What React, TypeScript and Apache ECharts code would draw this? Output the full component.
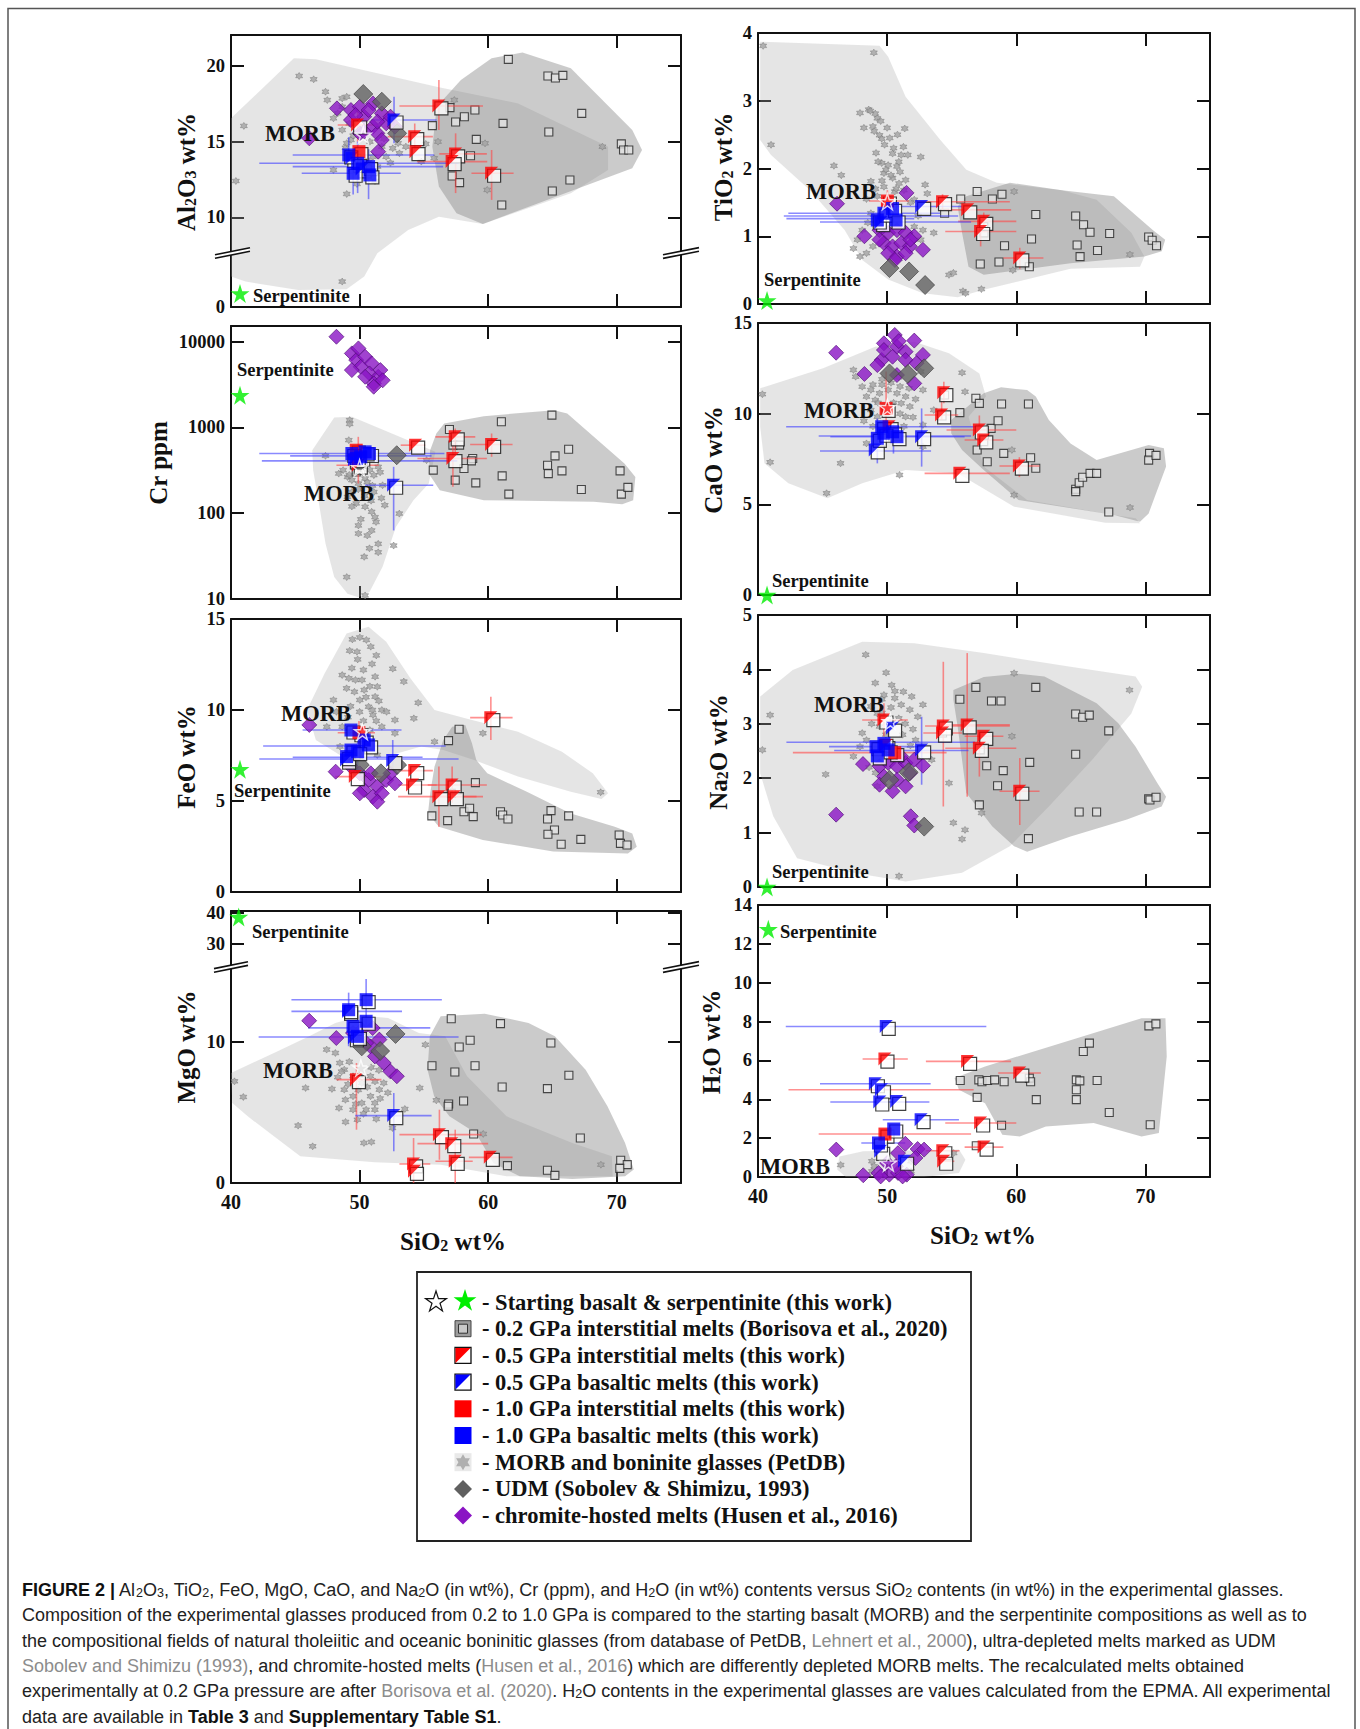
import React, { useEffect, useRef } from "react";
import * as echarts from "echarts";

// ---------------- DATA (x = SiO2 wt%) ----------------
// Al2O3 panel
const AL_FIELD_MORB = [[40,16.54],[44.89,20.51],[46.6,20.44],[56.17,18.59],[62.33,17.53],[69.33,14.67],[69.33,13.13],[66.43,11.59],[59.59,9.56],[56.17,10.04],[53.78,9.16],[51.38,7.62],[50.36,6.08],[48.99,5.24],[45.23,5.2],[41.13,5.75],[40,6.08]];
const AL_FIELD_BOR = [[62.67,20.9],[66.43,19.85],[71.21,15.77],[71.97,14.45],[71.21,13.24],[59.59,9.56],[57.54,10.26],[56.17,12.03],[55.66,14.67],[56.0,17.31],[57.88,19.07],[60.27,20.51]];
const AL_PETDB = [[45.3,19.34],[46.43,19.12],[47.35,18.3],[47.49,17.75],[48.65,17.86],[49.0,17.97],[41.0,16.04],[40.38,12.4],[49.0,11.54],[48.65,5.75],[47.97,13.13],[48.65,15.77],[47.97,16.54],[49.33,15.11],[52.07,14.0],[52.58,14.56],[53.1,14.23],[53.6,14.67],[54.8,13.68],[55.15,14.85],[56.1,15.0],[57.37,17.75],[59.76,14.89],[59.93,11.81],[68.89,14.67],[55.8,13.9],[51.4,13.35],[51.73,14.67],[51.04,14.0],[48.65,17.31],[48.3,16.87],[50.7,13.68],[49.2,16.2],[48.9,14.6],[49.5,15.4],[50.8,15.0],[51.9,15.2],[53.0,14.9],[49.0,14.9],[52.4,13.6],[51.2,12.4],[49.8,12.2]];
const AL_BOR = [[61.57,20.44],[64.65,19.34],[65.23,19.21],[65.81,19.38],[67.28,16.87],[64.72,15.64],[61.16,16.21],[58.97,17.09],[58.15,16.65],[57.47,16.3],[57.03,17.25],[55.66,16.06],[59.08,15.15],[58.63,14.07],[57.2,12.73],[57.78,12.29],[61.06,10.81],[64.99,11.74],[66.36,12.47],[70.36,14.85],[70.53,14.45],[70.94,14.45]];
const AL_RED05 = [[56.17,17.36],[54.29,15.33],[54.39,14.34],[57.47,14.19],[57.2,13.68],[60.27,12.91],[49.85,16.1]];
const AL_RED10 = [[49.95,14.34]];
const AL_BLUE05 = [[52.68,16.43],[49.4,13.9],[50.2,13.2]];
const AL_BLUE10 = [[49.16,14.12],[49.85,13.57],[50.7,13.35],[49.5,12.91],[50.8,12.8]];
const AL_ERR_RED = [[56.17,17.36,53.1,59.6,15.77,19.07],[54.29,15.33,52.2,55.7,14.45,16.2],[57.47,14.19,56.2,59.9,11.6,15.55],[57.2,13.68,54.46,59.93,null,null],[60.27,12.91,58.7,61.98,11.15,14.45],[49.85,16.1,48.3,51.4,15.0,17.0]];
const AL_ERR_BLUE = [[52.68,16.43,50.9,56.0,14.89,17.97],[49.16,14.12,44.8,55.8,13.0,15.3],[49.85,13.57,42.2,57.7,11.6,15.0],[50.7,13.35,44.8,56.5,11.2,14.5],[49.5,12.91,45.5,53.2,11.5,14.0]];
const AL_CHR = [[48.24,17.2],[46.09,15.22],[49.33,17.09],[50.02,17.31],[51.04,17.53],[51.73,16.87],[50.36,16.65],[49.33,16.43],[51.04,15.99],[52.07,16.21],[52.75,15.99],[51.38,15.55],[50.02,15.55],[50.7,17.09],[49.68,16.76],[51.45,14.34],[51.73,15.11],[50.36,15.66],[52.41,16.65],[51.38,16.32]];
const AL_UDM = [[50.29,18.15],[51.73,17.64],[52.92,15.55]];
const AL_MORB = [[50.29,15.44]];
const AL_SERP = [[40.7,0.9]];

// TiO2 panel
const TI_FIELD_MORB = [[40.17,3.87],[49.41,3.81],[50.08,3.65],[51.43,3.06],[54.12,2.42],[56.13,1.98],[58.49,1.79],[63.53,1.68],[66.22,1.54],[68.91,1.05],[69.92,0.7],[69.58,0.55],[64.2,0.52],[57.48,0.21],[55.46,0.1],[52.77,0.16],[50.08,0.36],[48.07,0.65],[46.72,1.09],[44.03,1.68],[41.01,2.2],[40.17,2.42]];
const TI_FIELD_BOR = [[56.13,1.59],[59.5,1.79],[63.53,1.68],[67.56,1.59],[70.59,1.09],[71.53,0.95],[71.26,0.78],[69.92,0.7],[64.2,0.6],[57.48,0.43],[56.3,0.55],[55.8,1.05],[55.46,1.44]];
const TI_PETDB = [[40.4,3.81],[48.97,3.71],[41.01,2.35],[47.9,2.82],[48.57,2.87],[49.08,2.81],[49.24,2.74],[48.9,2.62],[49.41,2.49],[49.58,2.44],[51.36,2.59],[51.26,2.32],[50.42,2.22],[51.09,2.2],[51.6,2.2],[52.6,2.17],[49.14,2.23],[45.88,2.04],[46.45,1.9],[49.58,2.08],[50.08,2.05],[50.76,2.03],[49.75,1.93],[50.42,1.86],[50.92,1.78],[48.74,1.81],[51.43,1.83],[49.75,1.73],[52.94,1.76],[53.11,1.63],[52.1,1.54],[52.77,1.09],[53.61,1.05],[47.39,0.82],[47.9,0.7],[48.4,0.75],[54.79,0.43],[55.13,0.46],[55.87,0.19],[56.07,0.16],[57.3,0.22],[59.83,1.66],[59.73,0.5],[68.8,0.73],[50.25,1.54],[49.24,1.59],[50.59,1.66],[48.74,1.34],[48.07,1.09],[52.1,1.14],[48.7,2.85],[49.5,2.7],[49.0,2.55],[49.8,2.35],[50.2,2.45],[50.5,2.3],[49.3,2.1],[50.9,2.1],[49.9,1.98],[50.3,1.9],[51.0,1.95],[49.6,1.82],[50.7,1.7],[51.3,1.68],[49.1,1.7],[48.4,1.55],[51.8,1.5],[52.4,1.3],[48.5,1.2],[47.7,0.95],[48.9,0.85],[52.6,0.95],[48.2,2.6],[50.0,2.6],[50.8,2.5]];
const TI_BOR = [[56.97,1.66],[58.15,1.55],[58.89,1.62],[55.7,1.55],[61.51,1.32],[64.6,1.3],[65.21,1.17],[65.71,1.06],[67.23,1.04],[61.18,0.96],[59.09,0.86],[64.71,0.87],[64.94,0.7],[66.29,0.79],[58.66,0.62],[57.21,0.59],[61.01,0.55],[70.25,0.99],[70.52,0.94],[70.86,0.86],[54.45,1.34],[57.48,1.14],[57.5,1.05]];
const TI_RED05 = [[54.29,1.51],[56.24,1.39],[57.48,1.22],[57.24,1.07],[60.27,0.68]];
const TI_RED10 = [[50.02,1.52]];
const TI_BLUE05 = [[52.67,1.44],[49.5,1.2]];
const TI_BLUE10 = [[49.24,1.24],[49.75,1.34],[50.42,1.41],[50.69,1.24]];
const TI_ERR_RED = [[54.29,1.51,52.3,59.5,1.38,1.62],[56.24,1.39,54.5,59.6,null,null],[57.48,1.22,55.5,60.0,1.08,1.35],[57.24,1.07,54.5,60.0,0.85,1.25],[60.27,0.68,59.0,62.1,0.52,0.83],[50.02,1.52,48.6,51.7,1.35,1.68]];
const TI_ERR_BLUE = [[49.75,1.34,42.35,54.1,null,null],[49.5,1.3,42.0,55.5,null,null],[49.3,1.26,42.2,52.1,null,null],[50.2,1.21,44.8,56.5,null,null],[52.67,1.44,50.7,55.8,null,null]];
const TI_CHR = [[46.12,1.48],[48.24,1.0],[51.5,1.64],[49.41,1.09],[50.08,1.05],[50.76,1.09],[51.43,1.05],[52.1,1.0],[52.77,0.8],[49.75,0.9],[50.42,0.85],[51.09,0.9],[51.76,0.85],[50.76,0.7],[50.08,0.75],[51.43,0.75],[51.8,0.95],[49.4,0.95],[50.6,0.65]];
const TI_UDM = [[50.18,0.53],[51.7,0.48],[52.94,0.28]];
const TI_MORB = [[50.02,1.51]];
const TI_SERP = [[40.7,0.05]];

// Cr panel (ppm, log)
const CR_FIELD_MORB = [[46.32,543],[48.03,1309],[49.4,1334],[55.9,520],[55.38,222],[54.19,142],[52.82,69],[51.79,23.7],[50.77,12.1],[49.91,10.5],[49.06,11.5],[48.03,18.1],[47.35,44.3],[46.84,130],[46.39,318]];
const CR_FIELD_BOR = [[56.58,1114],[59.66,1355],[65.13,1592],[66.15,1455],[70.6,380],[71.45,265],[71.28,142],[70.43,127],[68.21,136],[59.66,142],[56.24,185],[55.38,290],[55.49,543],[55.97,851]];
const CR_PETDB = [[49.23,1219],[49.23,1100],[49.16,711],[47.35,467],[48.72,318],[49.06,265],[49.4,243],[49.91,222],[50.43,254],[51.11,278],[51.45,348],[51.79,212],[49.06,155],[49.74,130],[50.43,119],[50.94,104],[51.96,124],[53.09,99],[49.91,72],[51.28,79],[49.91,58],[50.94,63],[51.45,44],[50.77,39],[51.45,35],[52.65,42],[50.36,31],[49.0,18],[50.43,11],[55.21,416],[48.38,290],[49.4,177],[51.11,177],[49.6,340],[50.2,300],[50.8,320],[49.2,280],[51.6,300],[50.6,230],[49.9,190],[51.0,210],[50.4,160],[51.7,150],[49.4,120],[50.9,140],[51.2,90],[50.1,85],[50.6,55]];
const CR_BOR = [[56.99,948],[61.03,1164],[64.96,1393],[57.26,622],[57.78,622],[58.8,434],[58.7,408],[58.12,332],[55.73,318],[57.44,243],[59.04,226],[61.09,273],[61.61,167],[65.2,467],[66.26,558],[64.62,363],[64.68,290],[65.74,312],[67.25,189],[70.26,312],[70.36,167],[70.87,200],[49.74,303]];
const CR_RED05 = [[54.36,622],[57.44,778],[57.26,434],[60.27,634],[49.9,363]];
const CR_RED10 = [[49.74,543]];
const CR_BLUE05 = [[52.65,212],[49.6,420]];
const CR_BLUE10 = [[49.4,497],[50.09,455],[50.77,497],[49.74,434],[50.43,520]];
const CR_ERR_RED = [[54.36,622,53.2,55.1,null,null],[57.44,778,55.9,59.0,497,973],[57.26,434,54.5,59.9,203,650],[60.27,634,58.6,61.9,455,851],[49.9,363,48.2,51.5,222,778]];
const CR_ERR_BLUE = [[52.65,212,50.43,55.73,63,348],[50.0,497,42.2,56.6,null,null],[50.0,467,44.6,55.6,null,null],[49.7,408,42.4,57.6,null,null]];
const CR_CHR = [[48.2,11430],[49.4,7311],[49.74,6105],[50.43,6683],[50.94,5580],[50.09,5105],[49.4,4668],[50.77,4266],[51.45,3900],[51.11,3264],[50.43,3900],[51.62,4668],[49.91,8360],[51.1,2985],[51.8,3550]];
const CR_UDM = [[52.89,475]];
const CR_MORB = [[50.0,340]];
const CR_SERP = [[40.7,2380]];

// CaO panel
const CA_FIELD_MORB = [[40.17,11.4],[45.04,12.5],[49.08,13.69],[52.1,13.97],[54.79,13.33],[57.14,12.22],[57.65,10.94],[56.3,9.83],[57.48,7.08],[60.84,5.24],[67.56,4.41],[69.24,4.23],[69.58,3.95],[66.89,3.99],[59.83,4.87],[55.46,6.71],[51.43,6.89],[48.07,6.16],[45.38,5.33],[42.35,6.16],[40.5,7.26],[40.17,9.28]];
const CA_FIELD_BOR = [[54.96,9.65],[57.48,11.12],[58.82,11.45],[60.84,11.3],[61.51,10.94],[62.52,9.65],[64.2,8.36],[66.22,7.44],[68.91,8.0],[70.25,8.27],[71.43,8.09],[71.6,7.08],[70.92,5.79],[70.25,4.5],[69.58,4.04],[67.56,4.41],[63.53,4.87],[60.17,5.24],[57.48,6.89],[55.8,8.0],[54.96,8.92]];
const CA_PETDB = [[40.34,11.07],[40.94,7.32],[45.31,5.61],[46.39,7.26],[50.96,6.62],[55.8,12.26],[56.03,11.21],[59.83,5.51],[68.81,4.82],[59.66,8.0],[47.39,12.41],[48.07,11.49],[48.74,11.31],[49.41,11.12],[50.08,11.31],[50.76,11.12],[51.43,10.94],[48.4,10.94],[49.08,10.75],[51.09,10.57],[51.76,10.39],[52.77,11.31],[53.61,10.2],[52.77,9.38],[49.24,9.83],[51.43,9.83],[48.74,10.2],[48.4,8.36],[52.77,8.18],[52.6,12.32],[47.56,12.04],[48.9,11.6],[49.6,11.6],[50.3,11.7],[51.0,11.5],[51.7,11.4],[49.3,10.6],[50.5,10.6],[52.2,10.8],[49.9,10.0],[51.0,10.0],[52.0,9.8],[48.2,9.6],[48.9,9.3],[51.3,9.3],[49.6,11.9],[50.9,12.0]];
const CA_BOR = [[56.87,10.85],[57.14,10.57],[58.86,10.53],[60.94,10.53],[55.63,10.06],[58.05,9.19],[58.59,9.61],[56.97,8.0],[59.03,7.81],[57.75,7.35],[61.11,7.57],[61.51,6.99],[64.6,5.83],[64.6,5.7],[64.87,6.19],[65.14,6.49],[65.71,6.71],[66.22,6.71],[67.16,4.58],[70.32,7.81],[70.25,7.44],[70.82,7.7],[54.45,11.03],[54.25,9.87],[57.48,8.46]];
const CA_RED05 = [[54.39,11.16],[54.22,9.93],[57.14,9.1],[57.48,8.55],[55.63,6.71],[60.24,7.11],[50.15,9.28]];
const CA_RED10 = [[49.92,10.29]];
const CA_BLUE05 = [[52.67,8.73],[49.08,8.0]];
const CA_BLUE10 = [[49.58,9.28],[50.42,9.0],[50.76,8.73],[49.24,8.64],[49.75,8.92]];
const CA_ERR_RED = [[54.39,11.16,null,null,10.57,11.76],[54.22,9.93,52.9,55.5,9.65,10.75],[57.14,9.1,54.6,60.0,8.2,9.9],[57.48,8.55,56.0,59.0,null,null],[55.63,6.71,52.9,59.5,null,null],[60.24,7.11,58.7,61.8,6.5,7.6],[49.92,10.29,null,null,9.47,12.32]];
const CA_ERR_BLUE = [[49.58,9.28,42.18,57.48,null,null],[50.42,8.77,44.7,56.5,null,null],[50.76,8.73,45.6,56.0,null,null],[49.24,7.94,44.8,53.4,null,null],[49.24,8.64,null,null,7.26,9.74],[50.49,9.0,null,null,7.8,9.6],[52.67,8.73,null,null,7.08,10.29]];
const CA_CHR = [[46.05,13.36],[50.59,14.34],[52.1,14.03],[49.75,13.88],[50.76,13.69],[51.43,13.42],[49.58,12.96],[50.42,13.14],[51.43,12.96],[52.77,13.24],[49.24,12.68],[48.24,12.19],[52.1,11.67],[50.76,12.13],[49.75,13.51],[50.9,14.0],[52.27,12.78]];
const CA_UDM = [[50.18,12.22],[51.6,12.19],[52.87,12.5]];
const CA_MORB = [[50.02,10.35]];
const CA_SERP = [[40.7,0.0]];

// FeO panel
const FE_FIELD_MORB = [[45.91,10.0],[47.28,12.01],[48.99,14.21],[50.7,14.58],[52.07,13.75],[53.95,11.74],[55.83,10.0],[58.22,9.54],[62.32,8.81],[65.74,7.71],[68.14,6.52],[69.33,5.42],[68.82,5.11],[66.43,5.51],[62.32,6.34],[58.91,7.25],[56.51,7.8],[54.8,7.99],[52.07,7.44],[48.65,7.44],[46.6,8.35]];
const FE_FIELD_BOR = [[57.2,9.08],[58.22,9.18],[58.74,8.17],[59.08,7.25],[59.93,6.52],[63.01,5.51],[66.43,4.32],[69.85,3.59],[71.21,3.22],[71.56,2.49],[70.87,2.12],[65.06,2.22],[59.59,2.86],[56.17,3.59],[55.32,4.32],[55.49,5.42],[55.83,6.89],[56.51,8.35]];
const FE_PETDB = [[49.44,13.88],[50.02,13.99],[50.53,13.85],[50.87,13.48],[49.23,13.26],[49.85,12.78],[50.97,12.53],[52.58,12.27],[53.44,11.56],[48.65,11.92],[49.16,11.74],[49.68,11.65],[48.99,11.19],[50.19,11.65],[50.36,11.1],[51.21,11.83],[51.38,11.28],[51.21,10.73],[50.02,10.55],[50.7,10.18],[51.73,10.0],[47.97,10.55],[47.45,9.08],[48.65,9.08],[51.73,9.08],[52.75,9.45],[52.75,8.72],[54.22,9.54],[54.56,10.4],[55.83,8.26],[59.59,8.72],[68.75,5.48],[51.38,7.53],[48.48,7.99],[51.04,9.73],[49.4,12.3],[50.3,12.2],[50.8,11.3],[49.6,11.0],[50.5,10.7],[51.5,10.5],[49.3,10.2],[50.0,9.9],[51.0,10.0],[49.1,9.6],[50.3,9.4],[51.3,9.4],[48.2,9.9],[50.8,8.9],[52.1,9.9],[49.8,13.2],[51.3,13.0]];
const FE_BOR = [[57.74,8.94],[56.92,8.32],[59.01,6.01],[55.62,4.18],[56.85,3.92],[58.12,4.41],[58.56,4.6],[58.84,4.14],[60.96,4.41],[61.13,4.23],[61.54,4.01],[64.62,4.01],[64.89,4.47],[65.16,3.41],[64.65,3.17],[65.68,2.62],[66.26,4.18],[67.21,2.89],[70.19,3.13],[70.29,2.67],[70.8,2.58],[57.13,5.42]];
const FE_RED05 = [[60.21,9.58],[54.29,6.67],[54.12,5.88],[57.2,5.88],[56.17,5.24],[57.37,5.24],[49.67,6.34]];
const FE_RED10 = [[49.95,8.75]];
const FE_BLUE05 = [[52.58,7.22],[48.99,7.25]];
const FE_BLUE10 = [[49.33,8.9],[50.36,8.35],[50.7,8.08],[49.33,7.8],[48.99,7.44],[49.85,7.71]];
const FE_ERR_RED = [[60.21,9.58,58.6,61.9,8.35,10.73],[54.29,6.67,53.0,55.7,null,null],[54.12,5.88,53.0,56.0,null,null],[57.2,5.88,55.3,59.9,4.9,6.9],[56.17,5.24,53.0,59.1,3.59,6.89],[57.37,5.24,55.8,59.6,null,null],[49.67,6.34,48.1,51.7,null,null],[49.95,8.75,48.3,51.2,8.1,9.4]];
const FE_ERR_BLUE = [[49.4,8.9,45.57,53.26,null,null],[49.9,8.02,42.5,56.7,null,null],[49.6,7.31,42.2,57.7,null,null],[49.5,7.4,44.8,54.9,null,null],[52.58,7.22,null,null,6.7,8.35],[49.85,7.8,null,null,6.5,8.7]];
const FE_CHR = [[46.09,9.18],[48.14,6.61],[49.33,6.89],[50.02,6.52],[50.7,6.15],[51.38,5.79],[52.07,6.15],[52.75,5.97],[50.36,5.6],[51.04,5.24],[51.73,5.42],[51.38,4.96],[50.02,5.42],[52.41,6.52],[50.87,6.52]];
const FE_UDM = [[50.02,6.98],[51.66,6.52],[52.92,6.98]];
const FE_MORB = [[50.22,8.81]];
const FE_SERP = [[40.7,6.74]];

// Na2O panel
const NA_FIELD_MORB = [[40.17,3.5],[42.69,3.99],[48.07,4.51],[52.1,4.48],[57.48,4.3],[64.2,4.05],[69.24,3.87],[69.75,3.68],[68.91,3.19],[65.88,2.34],[62.52,1.48],[59.5,0.75],[55.8,0.26],[51.43,0.1],[47.39,0.26],[43.03,0.53],[41.18,1.3],[40.17,2.09]];
const NA_FIELD_BOR = [[55.13,3.62],[57.48,3.86],[60.17,3.92],[62.18,3.87],[66.22,3.38],[67.9,3.01],[69.24,2.58],[70.92,1.91],[71.6,1.66],[71.26,1.48],[68.57,1.24],[64.2,0.93],[60.84,0.65],[59.83,0.75],[58.15,1.11],[56.13,1.73],[55.8,2.34],[55.46,2.95],[55.13,3.44]];
const NA_PETDB = [[40.34,2.52],[40.94,3.16],[45.24,2.07],[48.34,4.27],[49.92,3.94],[49.08,3.75],[50.35,3.71],[49.75,3.53],[51.26,3.59],[50.59,3.47],[51.09,3.35],[51.76,3.26],[52.77,3.35],[52.37,3.13],[48.74,3.32],[49.24,3.19],[48.07,2.83],[47.39,2.4],[47.9,2.58],[53.45,2.34],[54.79,1.91],[55.13,1.18],[56.03,1.05],[55.8,0.88],[57.31,1.36],[50.92,0.2],[59.83,3.93],[59.66,2.77],[68.77,3.62],[49.24,1.85],[49.41,2.95],[48.8,3.0],[49.6,3.2],[50.3,3.3],[50.9,3.1],[51.4,3.0],[52.0,2.9],[48.4,2.7],[49.9,2.8],[51.2,2.8],[51.8,2.6],[48.6,2.2],[49.1,2.1],[52.2,2.7],[50.6,3.6],[51.9,3.5],[49.6,3.45]];
const NA_BOR = [[55.63,3.45],[56.87,3.67],[58.08,3.42],[58.82,3.42],[61.51,3.67],[64.6,3.18],[65.14,3.12],[65.65,3.16],[67.16,2.87],[64.6,2.44],[57.71,2.23],[58.99,2.14],[58.55,1.86],[61.04,2.29],[57.14,1.51],[64.87,1.38],[66.22,1.38],[60.94,0.89],[70.25,1.62],[70.35,1.6],[70.82,1.65],[54.29,2.83],[57.21,2.52],[50.76,2.4]];
const NA_RED05 = [[49.75,3.07],[54.35,2.96],[54.29,2.83],[56.2,2.98],[57.48,2.77],[57.14,2.55],[60.27,1.76],[49.9,2.6]];
const NA_RED10 = [[50.59,2.47]];
const NA_BLUE05 = [[52.67,2.52],[50.42,2.92]];
const NA_BLUE10 = [[49.14,2.58],[49.75,2.64],[49.24,2.41],[50.08,2.52]];
const NA_ERR_RED = [[49.75,3.07,48.07,51.6,2.77,3.38],[54.35,2.96,52.94,59.5,1.48,4.14],[54.29,2.83,52.8,55.8,null,null],[56.2,2.98,54.5,59.5,1.66,4.3],[57.48,2.77,56.0,59.0,null,null],[57.14,2.55,54.5,60.0,2.03,2.83],[60.27,1.76,58.7,61.8,1.14,2.37],[50.59,2.47,42.7,54.6,null,null]];
const NA_ERR_BLUE = [[49.8,2.66,42.2,56.8,null,null],[49.5,2.58,45.5,52.8,null,null],[50.1,2.51,45.9,56.3,null,null],[52.67,2.52,null,null,1.88,3.13]];
const NA_CHR = [[48.13,2.26],[46.05,1.33],[51.83,1.3],[52.1,1.13],[52.77,2.23],[49.41,2.22],[50.08,2.28],[50.76,2.22],[51.43,2.28],[52.1,2.34],[49.75,2.03],[50.76,1.97],[51.43,1.85],[50.42,1.76],[49.41,1.88],[51.09,2.4],[51.76,2.09]];
const NA_UDM = [[50.18,1.97],[51.66,2.11],[52.87,1.11]];
const NA_MORB = [[50.25,3.04]];
const NA_SERP = [[40.7,0.0]];

// MgO panel
const MG_FIELD_MORB = [[40.0,7.8],[43.34,9.22],[46.08,10.4],[48.12,11.35],[50.17,11.87],[52.22,11.7],[54.61,10.64],[56.66,10.4],[58.36,7.57],[61.43,4.73],[66.55,2.84],[69.62,1.89],[69.69,0.47],[61.43,0.47],[56.31,1.3],[51.19,1.47],[45.39,1.89],[43.34,3.31],[41.3,4.73],[40.1,5.67]];
const MG_FIELD_BOR = [[56.31,11.82],[59.73,12.01],[63.14,11.35],[65.19,10.4],[67.58,8.04],[69.28,5.44],[70.65,2.84],[71.33,0.95],[70.65,0.47],[66.55,0.28],[62.46,0.47],[60.41,1.42],[59.04,3.55],[56.99,4.73],[55.8,6.15],[55.29,8.04],[55.46,10.4]];
const MG_PETDB = [[40.27,7.21],[40.96,6.1],[45.22,4.07],[46.35,2.6],[45.8,6.74],[47.85,6.67],[48.4,5.32],[48.91,4.33],[50.34,2.84],[50.92,2.91],[51.3,4.54],[52.56,3.9],[53.52,5.25],[54.68,6.74],[55.12,9.81],[55.97,5.86],[59.62,3.48],[68.77,1.3],[48.12,9.22],[47.44,9.46],[48.81,8.04],[49.49,7.57],[50.17,7.09],[50.85,7.57],[48.81,6.62],[49.49,6.15],[50.17,5.67],[50.85,6.15],[51.54,6.62],[51.19,5.67],[49.49,5.2],[50.51,5.2],[51.88,7.09],[48.46,8.51],[51.19,5.2],[49.83,4.49],[48.3,7.5],[49.1,7.0],[49.9,6.6],[50.6,6.8],[51.2,7.2],[48.9,5.9],[49.7,5.6],[51.6,6.0],[50.3,4.9],[48.6,7.9],[50.9,8.2],[49.2,8.6],[51.5,8.0],[50.0,7.6],[52.2,6.4]];
const MG_BOR = [[57.13,11.65],[60.96,11.3],[58.6,10.12],[57.75,9.65],[64.88,9.93],[55.63,8.32],[58.98,8.32],[57.41,7.87],[66.28,7.64],[61.09,6.81],[64.61,6.69],[58.09,5.82],[56.93,5.6],[56.89,5.44],[58.87,3.48],[67.17,3.19],[61.5,1.23],[64.61,0.9],[65.19,0.54],[70.31,1.61],[70.82,1.3],[70.24,1.04]];
const MG_RED05 = [[49.76,7.33],[56.21,3.43],[57.17,2.79],[57.44,1.54],[60.17,1.82],[54.2,1.35],[54.27,0.83]];
const MG_BLUE05 = [[49.15,12.17],[52.66,4.78],[49.6,10.3]];
const MG_BLUE10 = [[50.51,13.0],[49.15,12.29],[50.51,11.47],[49.49,11.11],[49.83,10.4]];
const MG_ERR_RED = [[49.76,7.33,48.2,51.7,3.78,8.51],[56.21,3.43,53.1,59.5,1.65,5.2],[57.17,2.79,54.5,60.0,null,null],[57.44,1.54,55.9,58.8,0,3.78],[60.17,1.82,58.5,61.9,null,null],[54.2,1.35,53.1,55.5,0,3.19]];
const MG_ERR_BLUE = [[50.51,13.0,44.7,56.4,null,null],[49.15,12.17,44.7,53.3,null,null],[49.7,10.35,42.15,57.7,null,null],[50.0,11.0,46.0,55.5,null,null],[50.51,13.0,null,null,10.4,14.47],[49.15,12.29,null,null,9.7,13.5],[52.66,4.78,49.66,55.6,2.25,6.38]];
const MG_CHR = [[46.08,11.51],[48.19,10.28],[50.17,10.87],[51.02,10.99],[51.54,10.17],[50.85,9.69],[50.51,9.93],[51.19,8.98],[51.88,8.51],[52.39,7.92],[52.9,7.57],[49.49,10.64]];
const MG_UDM = [[52.8,10.57],[51.6,9.36],[50.17,9.69]];
const MG_MORB = [[50.1,8.16]];
const MG_SERP = [[40.6,38.7]];

// H2O panel
const H2_FIELD_MORB = [[46.3,1.06],[48.15,1.32],[55.56,1.41],[56.06,0.89],[55.56,0.21],[52.86,0.0],[46.8,0.0],[46.13,0.38]];
const H2_FIELD_BOR = [[55.22,5.09],[57.58,5.69],[64.31,7.06],[69.7,8.17],[71.55,8.17],[71.65,6.2],[71.04,2.26],[69.7,2.09],[65.99,2.78],[62.29,2.6],[60.27,2.09],[58.92,2.18],[57.58,3.8],[55.56,4.49]];
const H2_PETDB = [[46.4,0.62],[48.82,0.81],[49.0,0.55],[51.85,0.81],[55.15,1.23],[51.85,0.29],[48.82,0.29]];
const H2_BOR = [[55.66,4.97],[57.1,5.0],[57.34,4.9],[57.78,4.97],[58.32,5.0],[59.06,4.9],[61.01,5.09],[61.11,4.9],[64.65,5.0],[64.92,4.95],[66.26,4.97],[64.65,4.49],[64.65,3.98],[56.97,4.1],[61.55,3.98],[65.19,6.46],[65.66,6.89],[67.2,3.32],[70.27,7.78],[70.81,7.88],[70.37,2.69],[58.86,2.66],[56.9,1.61]];
const H2_RED05 = [[49.83,6.07],[56.23,5.95],[60.27,5.35],[57.24,2.78],[57.51,1.54],[54.31,1.35],[54.38,0.81]];
const H2_RED10 = [[49.83,2.21]];
const H2_BLUE05 = [[49.93,7.75],[49.09,4.8],[49.56,4.49],[49.43,3.86],[50.74,3.89],[52.63,2.95],[51.35,0.81],[49.5,1.32]];
const H2_BLUE10 = [[49.33,1.75],[50.51,2.47]];
const H2_ERR_RED = [[49.83,6.07,48.1,51.6,null,null],[56.23,5.95,53.0,59.6,null,null],[60.27,5.35,58.6,61.9,null,null],[57.24,2.78,54.5,60.0,null,null],[57.51,1.54,56.0,59.0,null,null],[54.31,1.35,53.0,55.6,null,null],[54.38,0.81,54.0,55.2,null,null],[49.83,2.21,44.7,56.5,null,null],[49.6,4.49,42.36,56.7,null,null]];
const H2_ERR_BLUE = [[49.93,7.75,42.15,57.68,null,null],[49.09,4.8,44.8,53.37,null,null],[49.43,3.86,45.6,53.27,null,null],[52.63,2.95,49.66,55.56,null,null],[49.5,1.75,48.0,51.4,null,null]];
const H2_CHR = [[46.06,1.41],[48.15,0.09],[49.33,0.21],[50.17,0.12],[50.84,0.21],[51.52,0.12],[51.41,1.71],[52.36,1.44],[52.86,1.41],[50.84,1.23],[52.19,0.98],[50.0,0.72],[50.67,0.55],[49.5,0.03],[51.2,0.03]];
const H2_MORB = [[50.1,0.72]];
const H2_SERP = [[40.8,12.75]];

// tick values
const X_TICKS = [40, 50, 60, 70];
const AL_TICKS_HI = [10, 15, 20];
const AL_TICKS_LO = [0];
const TI_TICKS = [0, 1, 2, 3, 4];
const CR_TICKS = [10, 100, 1000, 10000];
const CA_TICKS = [0, 5, 10, 15];
const FE_TICKS = [0, 5, 10, 15];
const NA_TICKS = [0, 1, 2, 3, 4, 5];
const MG_TICKS_LO = [0, 10];
const MG_TICKS_HI = [30, 40];
const H2_TICKS = [0, 2, 4, 6, 8, 10, 12, 14];

const LEGEND_ITEMS = [
  "- Starting basalt & serpentinite (this work)",
  "- 0.2 GPa interstitial melts (Borisova et al., 2020)",
  "- 0.5 GPa interstitial melts (this work)",
  "- 0.5 GPa basaltic melts (this work)",
  "- 1.0 GPa interstitial melts (this work)",
  "- 1.0 GPa basaltic melts (this work)",
  "- MORB and boninite glasses (PetDB)",
  "- UDM (Sobolev & Shimizu, 1993)",
  "- chromite-hosted melts (Husen et al., 2016)",
];

const CAPTION = [
  "{b|FIGURE 2 |} Al{s|2}O{s|3}, TiO{s|2}, FeO, MgO, CaO, and Na{s|2}O (in wt%), Cr (ppm), and H{s|2}O (in wt%) contents versus SiO{s|2} contents (in wt%) in the experimental glasses.",
  "Composition of the experimental glasses produced from 0.2 to 1.0 GPa is compared to the starting basalt (MORB) and the serpentinite compositions as well as to",
  "the compositional fields of natural tholeiitic and oceanic boninitic glasses (from database of PetDB, {g|Lehnert et al., 2000}), ultra-depleted melts marked as UDM",
  "{g|Sobolev and Shimizu (1993)}, and chromite-hosted melts ({g|Husen et al., 2016}) which are differently depleted MORB melts. The recalculated melts obtained",
  "experimentally at 0.2 GPa pressure are after {g|Borisova et al. (2020)}. H{s|2}O contents in the experimental glasses are values calculated from the EPMA. All experimental",
  "data are available in {b|Table 3} and {b|Supplementary Table S1}.",
];

// ---------------- STYLE ----------------
const SER = "'Liberation Serif','Times New Roman',serif";
const SANS = "'Liberation Sans',Arial,sans-serif";
const HEX = "path://M0,-10L2.89,-5L8.66,-5L5.77,0L8.66,5L2.89,5L0,10L-2.89,5L-8.66,5L-5.77,0L-8.66,-5L-2.89,-5Z";
const STAR = "path://M0,-10L2.245,-3.09L9.51,-3.09L3.633,1.18L5.88,8.09L0,3.82L-5.88,8.09L-3.633,1.18L-9.51,-3.09L-2.245,-3.09Z";
const TRI = "path://M0,0L10,0L0,10Z";
const RED = "#ff0000";
const BLUE = "#0000ff";
const PURPLE = "#8a14c4";
const LIGHT_FIELD = "rgba(170,170,170,0.3)";
const DARK_FIELD = "rgba(130,130,130,0.42)";
const CAP_SIZE = 18.0;

type YA = { key: string; type?: string; min: number; max: number; ticks: number[] };
type PanelDef = {
  left: number; top: number; width: number; height: number; showX: boolean;
  y: YA[];
  fields: any[];
  petdb: number[][]; bor: number[][]; red05: number[][]; red10: number[][];
  blue05: number[][]; blue10: number[][]; errRed: any[][]; errBlue: any[][];
  chr: number[][]; udm: number[][]; morb: number[][]; serp: number[][]; serpAxis?: string;
};

const PANELS: PanelDef[] = [
  { left: 231, top: 35, width: 450, height: 272, showX: false,
    y: [{ key: "main", min: 4.07, max: 22.05, ticks: AL_TICKS_HI }, { key: "lo", min: 0, max: 17.98, ticks: AL_TICKS_LO }],
    fields: [AL_FIELD_MORB, AL_FIELD_BOR], petdb: AL_PETDB, bor: AL_BOR, red05: AL_RED05, red10: AL_RED10,
    blue05: AL_BLUE05, blue10: AL_BLUE10, errRed: AL_ERR_RED, errBlue: AL_ERR_BLUE, chr: AL_CHR, udm: AL_UDM, morb: AL_MORB, serp: AL_SERP, serpAxis: "lo" },
  { left: 758, top: 33, width: 452, height: 271, showX: false,
    y: [{ key: "main", min: 0, max: 4, ticks: TI_TICKS }],
    fields: [TI_FIELD_MORB, TI_FIELD_BOR], petdb: TI_PETDB, bor: TI_BOR, red05: TI_RED05, red10: TI_RED10,
    blue05: TI_BLUE05, blue10: TI_BLUE10, errRed: TI_ERR_RED, errBlue: TI_ERR_BLUE, chr: TI_CHR, udm: TI_UDM, morb: TI_MORB, serp: TI_SERP },
  { left: 231, top: 326, width: 450, height: 273, showX: false,
    y: [{ key: "main", type: "log", min: 10, max: 15250, ticks: CR_TICKS }],
    fields: [CR_FIELD_MORB, CR_FIELD_BOR], petdb: CR_PETDB, bor: CR_BOR, red05: CR_RED05, red10: CR_RED10,
    blue05: CR_BLUE05, blue10: CR_BLUE10, errRed: CR_ERR_RED, errBlue: CR_ERR_BLUE, chr: CR_CHR, udm: CR_UDM, morb: CR_MORB, serp: CR_SERP },
  { left: 758, top: 323, width: 452, height: 272, showX: false,
    y: [{ key: "main", min: 0, max: 15, ticks: CA_TICKS }],
    fields: [CA_FIELD_MORB, CA_FIELD_BOR], petdb: CA_PETDB, bor: CA_BOR, red05: CA_RED05, red10: CA_RED10,
    blue05: CA_BLUE05, blue10: CA_BLUE10, errRed: CA_ERR_RED, errBlue: CA_ERR_BLUE, chr: CA_CHR, udm: CA_UDM, morb: CA_MORB, serp: CA_SERP },
  { left: 231, top: 619, width: 450, height: 273, showX: false,
    y: [{ key: "main", min: 0, max: 15, ticks: FE_TICKS }],
    fields: [FE_FIELD_MORB, FE_FIELD_BOR], petdb: FE_PETDB, bor: FE_BOR, red05: FE_RED05, red10: FE_RED10,
    blue05: FE_BLUE05, blue10: FE_BLUE10, errRed: FE_ERR_RED, errBlue: FE_ERR_BLUE, chr: FE_CHR, udm: FE_UDM, morb: FE_MORB, serp: FE_SERP },
  { left: 758, top: 615, width: 452, height: 272, showX: false,
    y: [{ key: "main", min: 0, max: 5, ticks: NA_TICKS }],
    fields: [NA_FIELD_MORB, NA_FIELD_BOR], petdb: NA_PETDB, bor: NA_BOR, red05: NA_RED05, red10: NA_RED10,
    blue05: NA_BLUE05, blue10: NA_BLUE10, errRed: NA_ERR_RED, errBlue: NA_ERR_BLUE, chr: NA_CHR, udm: NA_UDM, morb: NA_MORB, serp: NA_SERP },
  { left: 231, top: 911, width: 450, height: 272, showX: true,
    y: [{ key: "main", min: 0, max: 19.29, ticks: MG_TICKS_LO }, { key: "hi", min: -47.1, max: 40.6, ticks: MG_TICKS_HI }],
    fields: [MG_FIELD_MORB, MG_FIELD_BOR], petdb: MG_PETDB, bor: MG_BOR, red05: MG_RED05, red10: [],
    blue05: MG_BLUE05, blue10: MG_BLUE10, errRed: MG_ERR_RED, errBlue: MG_ERR_BLUE, chr: MG_CHR, udm: MG_UDM, morb: MG_MORB, serp: MG_SERP, serpAxis: "hi" },
  { left: 758, top: 905, width: 452, height: 272, showX: true,
    y: [{ key: "main", min: 0, max: 14, ticks: H2_TICKS }],
    fields: [H2_FIELD_MORB, H2_FIELD_BOR], petdb: H2_PETDB, bor: H2_BOR, red05: H2_RED05, red10: H2_RED10,
    blue05: H2_BLUE05, blue10: H2_BLUE10, errRed: H2_ERR_RED, errBlue: H2_ERR_BLUE, chr: H2_CHR, udm: [], morb: H2_MORB, serp: H2_SERP },
];

const AXIS_LINE = { show: true, onZero: false, lineStyle: { color: "#111", width: 2 } };

function xAxisDef(gi: number, pos: string, labels: boolean) {
  return {
    gridIndex: gi, type: "value", min: 40, max: 75, interval: 10, position: pos,
    axisLine: AXIS_LINE,
    axisTick: { show: true, inside: true, length: 13, customValues: X_TICKS, lineStyle: { color: "#111", width: 2 } },
    axisLabel: { show: labels, customValues: X_TICKS, margin: 9, fontSize: 20, fontWeight: "bold", fontFamily: SER, color: "#111", formatter: (v: number) => String(v) },
    splitLine: { show: false },
  };
}
function yAxisDef(gi: number, pos: string, ya: YA, labels: boolean, line: boolean) {
  return {
    gridIndex: gi, type: ya.type === "log" ? "log" : "value", logBase: 10, min: ya.min, max: ya.max, position: pos,
    axisLine: { ...AXIS_LINE, show: line },
    axisTick: { show: true, inside: true, length: 13, customValues: ya.ticks, lineStyle: { color: "#111", width: 2 } },
    axisLabel: { show: labels, customValues: ya.ticks, margin: 6, fontSize: 18.5, fontWeight: "bold", fontFamily: SER, color: "#111", formatter: (v: number) => String(v) },
    splitLine: { show: false },
  };
}

function sc(data: any[], xi: number, yi: number, symbol: string, size: number, style: any, z: number, offset?: number[]) {
  return { type: "scatter", xAxisIndex: xi, yAxisIndex: yi, data, symbol, symbolSize: size, symbolOffset: offset || [0, 0], itemStyle: style, z, silent: true, emphasis: { disabled: true } };
}
function poly(verts: number[][], xi: number, yi: number, fill: string, z: number) {
  return {
    type: "custom", xAxisIndex: xi, yAxisIndex: yi, data: verts, z, silent: true, clip: true,
    renderItem: (params: any, api: any) => {
      if (params.dataIndex !== 0) return null;
      return { type: "polygon", shape: { points: verts.map((v) => api.coord(v)) }, style: { fill, stroke: "none" } };
    },
  };
}
function errs(list: any[][], xi: number, yi: number, color: string, z: number) {
  return {
    type: "custom", xAxisIndex: xi, yAxisIndex: yi, data: list.map((e) => [e[0], e[1]]), z, silent: true, clip: true,
    renderItem: (params: any, api: any) => {
      const e = list[params.dataIndex];
      const ch: any[] = [];
      if (e[2] != null) {
        const a = api.coord([e[2], e[1]]), b = api.coord([e[3], e[1]]);
        ch.push({ type: "line", shape: { x1: a[0], y1: a[1], x2: b[0], y2: b[1] }, style: { stroke: color, lineWidth: 1.6 } });
      }
      if (e[4] != null) {
        const a = api.coord([e[0], e[4]]), b = api.coord([e[0], e[5]]);
        ch.push({ type: "line", shape: { x1: a[0], y1: a[1], x2: b[0], y2: b[1] }, style: { stroke: color, lineWidth: 1.6 } });
      }
      return { type: "group", children: ch };
    },
  };
}

function starPts(cx: number, cy: number, R: number) {
  const pts: number[][] = [];
  for (let i = 0; i < 10; i++) {
    const r = i % 2 === 0 ? R : R * 0.382;
    const a = -Math.PI / 2 + (i * Math.PI) / 5;
    pts.push([cx + r * Math.cos(a), cy + r * Math.sin(a)]);
  }
  return pts;
}
function hexPts(cx: number, cy: number, R: number) {
  const pts: number[][] = [];
  for (let i = 0; i < 12; i++) {
    const r = i % 2 === 0 ? R : R * 0.577;
    const a = -Math.PI / 2 + (i * Math.PI) / 6;
    pts.push([cx + r * Math.cos(a), cy + r * Math.sin(a)]);
  }
  return pts;
}

function subRich(size: number) {
  return { s: { fontSize: size, fontWeight: "bold", fontFamily: SER, fill: "#111", verticalAlign: "bottom" } };
}

function txt(x: number, y: number, text: string, size: number, align: string, extra?: any) {
  return {
    type: "text", x, y, z: 100, silent: true, ...(extra || {}),
    style: { text, fontSize: size, fontWeight: "bold", fontFamily: SER, fill: "#111", align, textAlign: align, verticalAlign: "middle", textVerticalAlign: "middle", rich: subRich(Math.round(size * 0.65)) },
  };
}

function breakMark(x0: number, x1: number, yc: number) {
  const dy = (x1 - x0) * 0.2;
  const g = 3.6;
  return [
    { type: "polygon", z: 90, silent: true, shape: { points: [[x0, yc + dy / 2 - g / 2], [x1, yc - dy / 2 - g / 2], [x1, yc - dy / 2 + g / 2], [x0, yc + dy / 2 + g / 2]] }, style: { fill: "#fff" } },
    { type: "line", z: 91, silent: true, shape: { x1: x0, y1: yc + dy / 2 - g / 2, x2: x1, y2: yc - dy / 2 - g / 2 }, style: { stroke: "#111", lineWidth: 1.6 } },
    { type: "line", z: 91, silent: true, shape: { x1: x0, y1: yc + dy / 2 + g / 2, x2: x1, y2: yc - dy / 2 + g / 2 }, style: { stroke: "#111", lineWidth: 1.6 } },
  ];
}

function buildOption() {
  const opt: any = { animation: false, backgroundColor: "#fff", grid: [], xAxis: [], yAxis: [], series: [], graphic: [] };
  PANELS.forEach((p, gi) => {
    opt.grid.push({ left: p.left, top: p.top, width: p.width, height: p.height });
    const xi = opt.xAxis.length;
    opt.xAxis.push(xAxisDef(gi, "bottom", p.showX));
    opt.xAxis.push(xAxisDef(gi, "top", false));
    const yIdx: Record<string, number> = {};
    p.y.forEach((ya, k) => {
      yIdx[ya.key] = opt.yAxis.length;
      opt.yAxis.push(yAxisDef(gi, "left", ya, true, k === 0));
      opt.yAxis.push(yAxisDef(gi, "right", ya, false, k === 0));
    });
    const yi = yIdx.main;
    const S = opt.series;
    S.push(poly(p.fields[0], xi, yi, LIGHT_FIELD, 1));
    S.push(poly(p.fields[1], xi, yi, DARK_FIELD, 2));
    S.push(sc(p.petdb, xi, yi, HEX, 7, { color: "#a3a3a3", borderColor: "#777", borderWidth: 0.6 }, 3));
    S.push(sc(p.bor, xi, yi, "rect", 8, { color: "#e2e2e2", borderColor: "#222", borderWidth: 1.1 }, 4));
    S.push(errs(p.errRed, xi, yi, "rgba(255,70,70,0.6)", 5));
    S.push(errs(p.errBlue, xi, yi, "rgba(60,60,255,0.6)", 5));
    S.push(sc(p.chr, xi, yi, "diamond", 15, { color: PURPLE, borderColor: "#4d0a75", borderWidth: 0.8 }, 6));
    S.push(sc(p.udm, xi, yi, "diamond", 19, { color: "#606060", borderColor: "#3a3a3a", borderWidth: 0.8 }, 7));
    const base = { color: "#fff", borderColor: "#111", borderWidth: 1.2 };
    const allExp = [...p.red05, ...p.blue05, ...p.red10, ...p.blue10];
    S.push(sc(allExp, xi, yi, "rect", 13, base, 8, [2.5, 2.5]));
    S.push(sc(p.red05, xi, yi, TRI, 13, { color: RED }, 9));
    S.push(sc(p.blue05, xi, yi, TRI, 13, { color: BLUE }, 9));
    S.push(sc(p.red10, xi, yi, "rect", 13, { color: RED }, 9));
    S.push(sc(p.blue10, xi, yi, "rect", 13, { color: BLUE }, 9));
    S.push(sc(p.morb, xi, yi, STAR, 16, { color: "rgba(255,255,255,0.05)", borderColor: "#fff", borderWidth: 1.4 }, 10));
    S.push(sc(p.serp, xi, yIdx[p.serpAxis || "main"], STAR, 19, { color: "#00ee00" }, 11));
  });

  const G = opt.graphic;
  // outer frame
  G.push({ type: "polyline", z: 95, silent: true, shape: { points: [[8, 1729], [8, 8.5], [1355, 8.5], [1355, 1729]] }, style: { stroke: "#555", lineWidth: 1.5, fill: "none" } });
  // axis titles
  const TS = 25;
  G.push(txt(186, 172, "Al{s|2}O{s|3} wt%", TS, "center", { rotation: Math.PI / 2 }));
  G.push(txt(723, 167, "TiO{s|2} wt%", TS, "center", { rotation: Math.PI / 2 }));
  G.push(txt(158, 463, "Cr ppm", TS, "center", { rotation: Math.PI / 2 }));
  G.push(txt(713, 460, "CaO wt%", TS, "center", { rotation: Math.PI / 2 }));
  G.push(txt(186, 757, "FeO wt%", TS, "center", { rotation: Math.PI / 2 }));
  G.push(txt(718, 752, "Na{s|2}O wt%", TS, "center", { rotation: Math.PI / 2 }));
  G.push(txt(186, 1047, "MgO wt%", TS, "center", { rotation: Math.PI / 2 }));
  G.push(txt(711, 1042, "H{s|2}O wt%", TS, "center", { rotation: Math.PI / 2 }));
  G.push(txt(453, 1241, "SiO{s|2} wt%", 25, "center"));
  G.push(txt(983, 1235, "SiO{s|2} wt%", 25, "center"));
  // MORB labels
  [[300, 133], [841, 191], [339, 493], [839, 410], [316, 713], [849, 704], [298, 1070], [795, 1166]].forEach(([x, y]) => G.push(txt(x, y, "MORB", 22.5, "center")));
  // Serpentinite labels
  [[253, 296], [764, 280], [237, 370], [772, 581], [234, 791], [772, 872], [252, 932], [780, 932]].forEach(([x, y]) => G.push(txt(x, y, "Serpentinite", 18.5, "left")));
  // axis breaks
  breakMark(215, 250, 253).forEach((e) => G.push(e));
  breakMark(663, 699, 253).forEach((e) => G.push(e));
  breakMark(214, 248, 967).forEach((e) => G.push(e));
  breakMark(663, 699, 967).forEach((e) => G.push(e));

  // legend
  G.push({ type: "rect", z: 90, silent: true, shape: { x: 417, y: 1272, width: 554, height: 269 }, style: { fill: "#fff", stroke: "#222", lineWidth: 1.8 } });
  LEGEND_ITEMS.forEach((t, i) => {
    const cy = 1302 + i * 26.7;
    G.push({ type: "text", z: 100, silent: true, x: 482, y: cy, style: { text: t, fontSize: 22.5, fontWeight: "bold", fontFamily: SER, fill: "#111", align: "left", textAlign: "left", verticalAlign: "middle", textVerticalAlign: "middle" } });
    const sx = 463;
    const L: any[] = [];
    if (i === 0) {
      L.push({ type: "polygon", shape: { points: starPts(436, cy, 11) }, style: { fill: "#fff", stroke: "#111", lineWidth: 1.2 } });
      L.push({ type: "polygon", shape: { points: starPts(465, cy - 1, 12) }, style: { fill: "#00ee00" } });
    } else if (i === 1) {
      L.push({ type: "rect", shape: { x: sx - 8, y: cy - 8, width: 16, height: 16 }, style: { fill: "#9d9d9d", stroke: "#444", lineWidth: 1 } });
      L.push({ type: "rect", shape: { x: sx - 4.5, y: cy - 4.5, width: 9, height: 9 }, style: { fill: "#c9c9c9", stroke: "#333", lineWidth: 1 } });
    } else if (i === 2 || i === 3) {
      const c = i === 2 ? RED : BLUE;
      L.push({ type: "rect", shape: { x: sx - 8, y: cy - 8, width: 16, height: 16 }, style: { fill: "#fff", stroke: "#111", lineWidth: 1.3 } });
      L.push({ type: "polygon", shape: { points: [[sx - 7.5, cy - 7.5], [sx + 7.5, cy - 7.5], [sx - 7.5, cy + 7.5]] }, style: { fill: c } });
    } else if (i === 4 || i === 5) {
      L.push({ type: "rect", shape: { x: sx - 8.5, y: cy - 8.5, width: 17, height: 17 }, style: { fill: i === 4 ? RED : BLUE } });
    } else if (i === 6) {
      L.push({ type: "rect", shape: { x: sx - 8.5, y: cy - 9, width: 17, height: 18 }, style: { fill: "#e9e9e9" } });
      L.push({ type: "polygon", shape: { points: hexPts(sx, cy, 8) }, style: { fill: "#b0b0b0" } });
    } else {
      const c = i === 7 ? "#606060" : PURPLE;
      L.push({ type: "polygon", shape: { points: [[sx, cy - 9], [sx + 9, cy], [sx, cy + 9], [sx - 9, cy]] }, style: { fill: c } });
    }
    L.forEach((e) => G.push({ ...e, z: 100, silent: true }));
  });

  // caption
  const capRich = {
    b: { fontWeight: "bold", fontSize: CAP_SIZE, fontFamily: SANS, fill: "#111" },
    g: { fontSize: CAP_SIZE, fontFamily: SANS, fill: "#8c8c8c" },
    s: { fontSize: 12.5, fontFamily: SANS, fill: "#222", verticalAlign: "bottom" },
  };
  CAPTION.forEach((line, i) => {
    G.push({ type: "text", z: 100, silent: true, x: 22, y: 1590 + i * 25.3, style: { text: line, fontSize: CAP_SIZE, fontFamily: SANS, fill: "#222", align: "left", textAlign: "left", verticalAlign: "middle", textVerticalAlign: "middle", rich: capRich } });
  });
  return opt;
}

export default function App() {
  const ref = useRef<HTMLDivElement>(null);
  useEffect(() => {
    if (!ref.current) return;
    const chart = echarts.init(ref.current, null, { renderer: "svg" });
    chart.setOption(buildOption());
    return () => chart.dispose();
  }, []);
  return <div ref={ref} style={{ position: "absolute", left: 0, top: 0, width: 1360, height: 1729, background: "#fff" }} />;
}
